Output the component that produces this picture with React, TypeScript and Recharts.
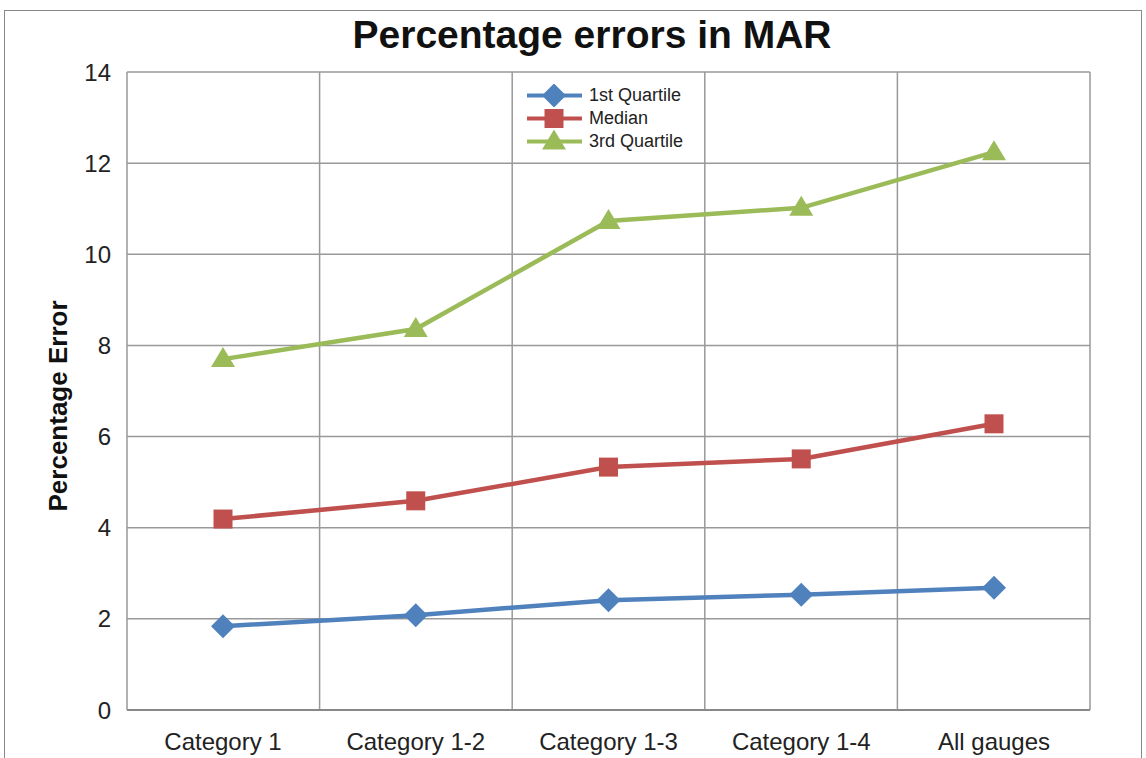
import React from "react";
import {
  LineChart,
  Line,
  XAxis,
  YAxis,
  CartesianGrid,
} from "recharts";

const categories = ["Category 1", "Category 1-2", "Category 1-3", "Category 1-4", "All gauges"];
const firstQuartile = [1.84, 2.08, 2.41, 2.53, 2.68];
const median = [4.19, 4.59, 5.33, 5.51, 6.28];
const thirdQuartile = [7.7, 8.36, 10.73, 11.02, 12.24];
const yTicks = [0, 2, 4, 6, 8, 10, 12, 14];

const data = categories.map((c, i) => ({
  name: c,
  q1: firstQuartile[i],
  med: median[i],
  q3: thirdQuartile[i],
}));

const BLUE = "#4f81bd";
const RED = "#c0504d";
const GREEN = "#9bbb59";
const FONT = "'Liberation Sans', Arial, sans-serif";

const Diamond = ({ cx, cy, fill }: any) => (
  <polygon points={`${cx},${cy - 12} ${cx + 12},${cy} ${cx},${cy + 12} ${cx - 12},${cy}`} fill={fill} />
);
const Square = ({ cx, cy, fill }: any) => (
  <rect x={cx - 9.5} y={cy - 9.5} width={19} height={19} fill={fill} />
);
const Triangle = ({ cx, cy, fill }: any) => (
  <polygon points={`${cx},${cy - 12} ${cx + 12},${cy + 8} ${cx - 12},${cy + 8}`} fill={fill} />
);

const legendItems = [
  { label: "1st Quartile", color: BLUE, Shape: Diamond },
  { label: "Median", color: RED, Shape: Square },
  { label: "3rd Quartile", color: GREEN, Shape: Triangle },
];

const MyLegend = () => (
  <div style={{ position: "absolute", left: 524, top: 84 }}>
    {legendItems.map((it) => (
      <div key={it.label} style={{ display: "flex", alignItems: "center", height: 23 }}>
        <svg width={60} height={23}>
          <line x1={3} x2={58} y1={11.5} y2={11.5} stroke={it.color} strokeWidth={4} />
          <it.Shape cx={30} cy={11.5} fill={it.color} />
        </svg>
        <span style={{ fontFamily: FONT, fontSize: 18, color: "#222", marginLeft: 5 }}>{it.label}</span>
      </div>
    ))}
  </div>
);

const YLabel = () => (
  <text
    x={58}
    y={406}
    transform="rotate(-90 58 406)"
    textAnchor="middle"
    dominantBaseline="central"
    style={{ fontFamily: FONT, fontSize: 26, fontWeight: "bold", fill: "#111" }}
  >
    Percentage Error
  </text>
);

export default function App() {
  return (
    <div style={{ position: "absolute", left: 0, top: 0, width: 1146, height: 758, background: "#fff", overflow: "hidden" }}>
      <div
        style={{
          position: "absolute",
          left: 4,
          top: 10,
          width: 1136,
          height: 760,
          border: "1.5px solid #888",
        }}
      />
      <div
        style={{
          position: "absolute",
          left: 38,
          width: 1108,
          top: 13,
          textAlign: "center",
          fontFamily: FONT,
          fontWeight: "bold",
          fontSize: 39,
          color: "#111",
        }}
      >
        Percentage errors in MAR
      </div>
      <div style={{ position: "absolute", left: 0, top: 0 }}>
        <LineChart width={1146} height={758} data={data} margin={{ top: 72, right: 56, left: 0, bottom: 0 }}>
          <CartesianGrid
            stroke="#999"
            strokeWidth={1.5}
            verticalCoordinatesGenerator={({ offset }: any) =>
              categories.map((_, i) => offset.left + (i * offset.width) / categories.length).concat(offset.left + offset.width)
            }
          />
          <XAxis
            dataKey="name"
            height={48}
            padding={{ left: 96, right: 96 }}
            axisLine={{ stroke: "#888", strokeWidth: 2 }}
            tickLine={false}
            tick={{ fill: "#222", fontSize: 24, fontFamily: FONT }}
            tickMargin={17}
          />
          <YAxis
            width={127}
            domain={[0, 14]}
            ticks={yTicks}
            axisLine={false}
            tickLine={false}
            tick={{ fill: "#222", fontSize: 24, fontFamily: FONT }}
            tickMargin={10}
            label={<YLabel />}
          />
          <Line dataKey="q1" name="1st Quartile" stroke={BLUE} strokeWidth={4.5} dot={<Diamond fill={BLUE} />} isAnimationActive={false} />
          <Line dataKey="med" name="Median" stroke={RED} strokeWidth={4.5} dot={<Square fill={RED} />} isAnimationActive={false} />
          <Line dataKey="q3" name="3rd Quartile" stroke={GREEN} strokeWidth={4.5} dot={<Triangle fill={GREEN} />} isAnimationActive={false} />
        </LineChart>
      </div>
      <MyLegend />
    </div>
  );
}
